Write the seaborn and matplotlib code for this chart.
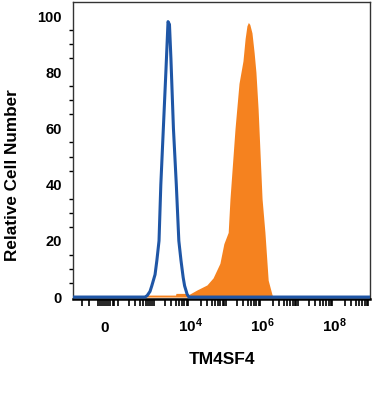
import numpy as np
import pandas as pd
import matplotlib
matplotlib.use("Agg")
import matplotlib.pyplot as plt
import seaborn as sns

# x is in display channel units (decades: 4 -> 10^4)
iso_x = [0.75, 2.75, 2.81, 2.89, 2.94, 3.03, 3.08, 3.14, 3.19, 3.26, 3.33, 3.39, 3.43, 3.47,
         3.54, 3.62, 3.69, 3.75, 3.81, 3.85, 3.92, 3.97, 9.0]
iso_y = [0, 0, 0.5, 2, 4, 8, 13, 20, 40, 60, 80, 98, 97, 85,
         60, 40, 20, 13, 7, 4, 1, 0, 0]

stain_x = [0.75, 2.75, 2.76, 3.6, 3.61, 3.93, 3.94, 4.19, 4.47, 4.64, 4.83, 4.94, 5.06, 5.11,
           5.25, 5.36, 5.47, 5.53, 5.58, 5.62, 5.66, 5.72, 5.78, 5.83, 5.89, 6.0, 6.08,
           6.17, 6.28, 6.33, 9.0]
stain_y = [0, 0, 0.7, 0.7, 1.3, 1.3, 0.7, 2.5, 4.3, 6.8, 12, 19, 23, 35,
           60, 76, 84, 92, 96.5, 97.7, 97, 94, 87, 80, 67, 35, 23,
           6, 0.7, 0, 0]

tick_pos = [1.64, 4, 6, 8]
tick_lab = ["0", "$10^{4}$", "$10^{6}$", "$10^{8}$"]

sns.set_style("white")
plt.rcParams["font.family"] = ["Liberation Sans", "DejaVu Sans"]
plt.rcParams["font.weight"] = "bold"
plt.rcParams["text.color"] = "black"
plt.rcParams["axes.labelcolor"] = "black"
plt.rcParams["xtick.color"] = "black"
plt.rcParams["ytick.color"] = "black"
plt.rcParams["mathtext.fontset"] = "custom"
plt.rcParams["mathtext.rm"] = "Liberation Sans:bold"
plt.rcParams["mathtext.it"] = "Liberation Sans:bold"
plt.rcParams["mathtext.bf"] = "Liberation Sans:bold"

fig = plt.figure(figsize=(3.72, 3.95), dpi=100)
ax = fig.add_axes([0.196, 0.243, 0.799, 0.752])

ax.fill_between(stain_x, stain_y, color="#F5821F", linewidth=0, zorder=2)
sns.lineplot(x=iso_x, y=iso_y, color="#1F56A6", linewidth=2.2, ax=ax, zorder=3)

ax.set_xlim(0.75, 9.0)
ax.set_ylim(-0.7, 105)

ax.set_yticks([0, 20, 40, 60, 80, 100])
ax.set_yticks(np.arange(5, 105, 5), minor=True)
ax.set_xticks(tick_pos)
ax.set_xticklabels(tick_lab)
minor_x = [d + np.log10(k) for d in range(2, 9) for k in range(2, 10)]
minor_x += [1.45, 1.5, 1.55, 1.6, 1.68, 1.73, 1.78, 1.85, 1.9, 1.2, 1.0]
minor_x += [2, 3, 5, 7]
ax.set_xticks([m for m in minor_x if 0.75 < m < 9.0], minor=True)

ax.tick_params(axis="y", which="major", direction="out", length=6, width=3, labelsize=10.5, pad=2)
ax.tick_params(axis="y", which="minor", direction="out", length=3, width=1, left=True)
ax.tick_params(axis="x", which="major", direction="out", length=8, width=2.5, labelsize=11, pad=16)
ax.tick_params(axis="x", which="minor", direction="out", length=5, width=1.2, bottom=True)
for t in ax.get_xticklabels():
    t.set_verticalalignment("baseline")

for s in ax.spines.values():
    s.set_color("#333333")
    s.set_linewidth(1.0)
ax.spines["bottom"].set_color("black")
ax.spines["bottom"].set_linewidth(1.8)

ax.set_xlabel("TM4SF4", fontsize=12.5, fontweight="bold", labelpad=12)
ax.set_ylabel("Relative Cell Number", fontsize=12.3, fontweight="bold")
ax.yaxis.set_label_coords(-0.178, 0.418)

fig.savefig("out.png", dpi=100)
